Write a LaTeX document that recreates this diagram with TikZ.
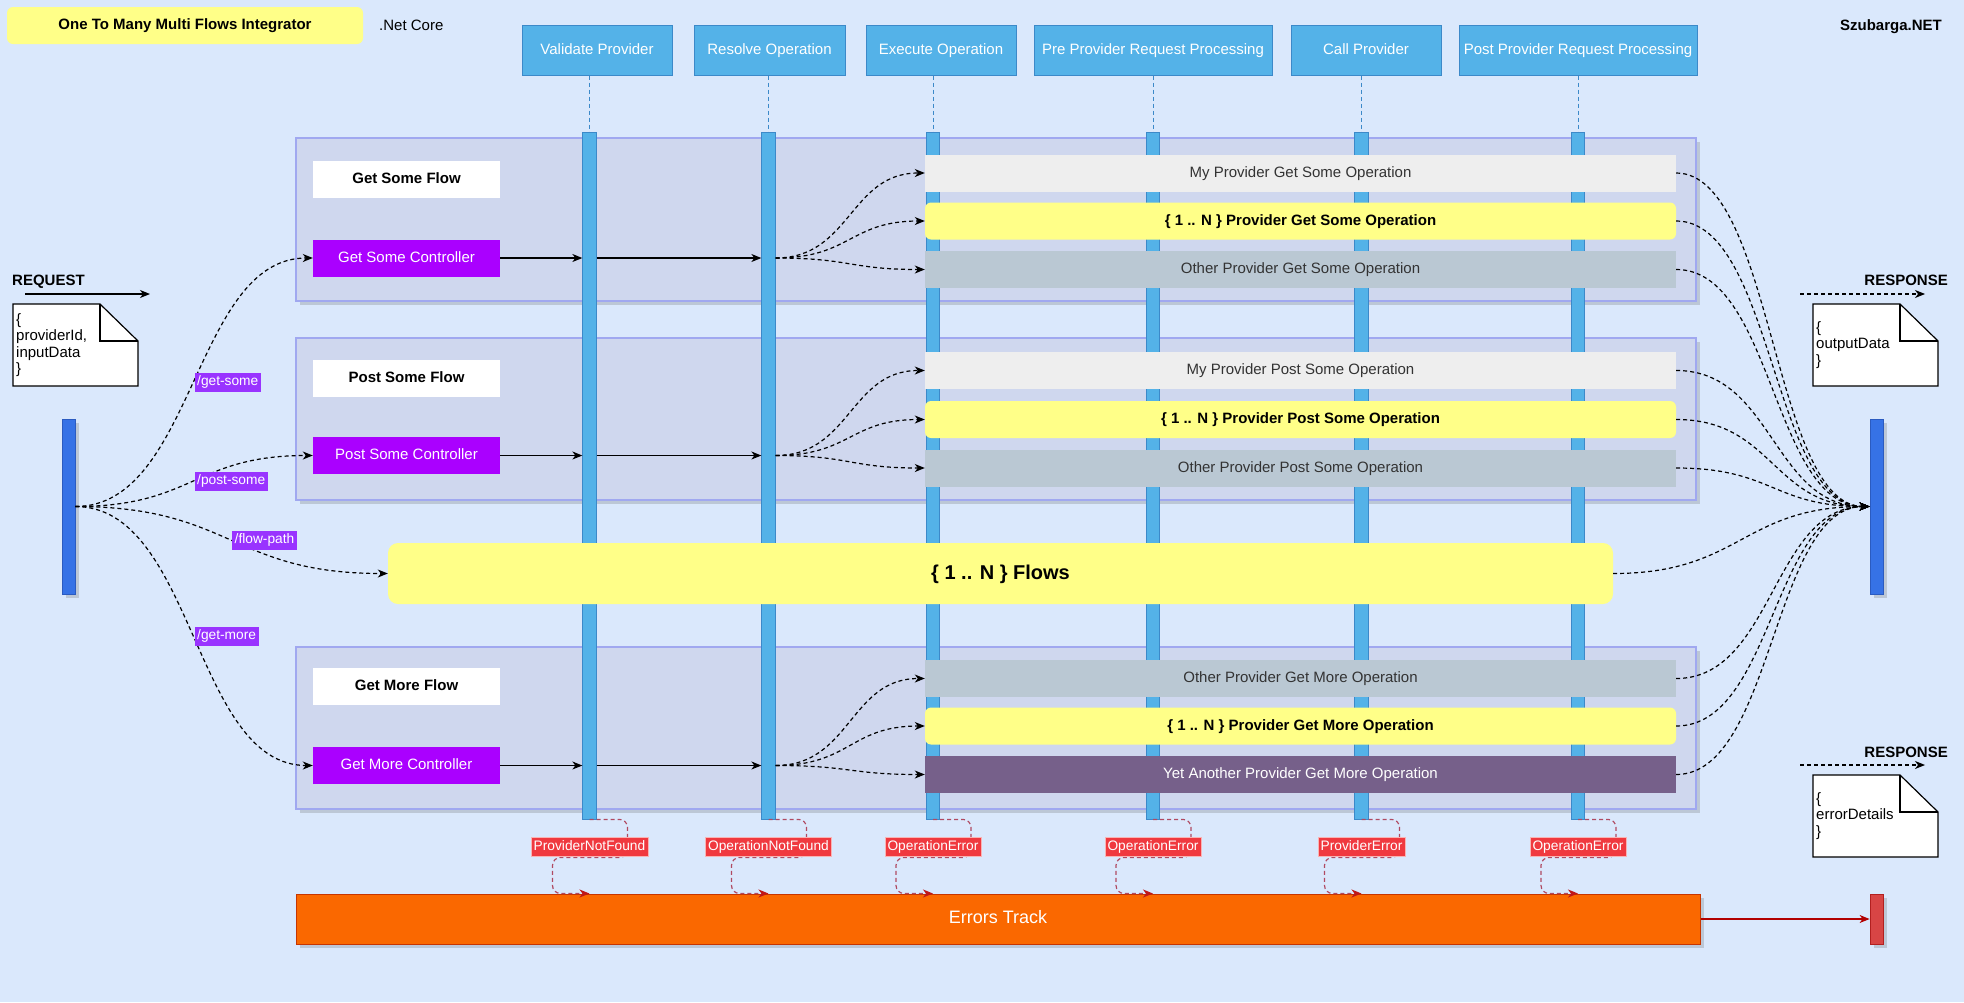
\documentclass[tikz,border=0pt]{standalone}
\usepackage{fontspec}
\setmainfont{Liberation Sans}
\usetikzlibrary{arrows.meta,calc,positioning,shadows}

\definecolor{bgblue}{HTML}{DAE8FC}
\definecolor{headblue}{HTML}{54B2E8}
\definecolor{headline}{HTML}{3C89C9}
\definecolor{groupfill}{HTML}{CFD7EE}
\definecolor{groupline}{HTML}{A0A8F0}
\definecolor{ctrlpurple}{HTML}{AA00FF}
\definecolor{routepurple}{HTML}{9933FF}
\definecolor{rowgray}{HTML}{EEEEEE}
\definecolor{rowyellow}{HTML}{FFFF88}
\definecolor{rowblue}{HTML}{BAC8D3}
\definecolor{rowpurple}{HTML}{76608A}
\definecolor{textgray}{HTML}{333333}
\definecolor{barblue}{HTML}{3672E6}
\definecolor{barline}{HTML}{2B5BC0}
\definecolor{errfill}{HTML}{F0393F}
\definecolor{errborder}{HTML}{F8B4B4}
\definecolor{errline}{HTML}{B04A62}
\definecolor{errtip}{HTML}{C01818}
\definecolor{trackorange}{HTML}{FA6800}
\definecolor{trackline}{HTML}{C73500}
\definecolor{redbar}{HTML}{D84545}
\definecolor{redline}{HTML}{B22020}
\definecolor{trackred}{HTML}{B20000}

\begin{document}
\begin{tikzpicture}[x=1pt,y=-1pt,>={Stealth[length=10pt,width=8pt,inset=3pt]}]
	\tikzstyle{txt} = [font=\fontsize{15}{18}\selectfont, text height=11pt, text depth=3pt]
	\tikzstyle{txtb} = [font=\fontsize{15}{18}\selectfont\bfseries, text height=11pt, text depth=3pt]
	\tikzstyle{shadowed} = [drop shadow={shadow xshift=4pt,shadow yshift=-4pt,opacity=0.25,fill=black!60}]
	\tikzstyle{head} = [txt, rectangle, draw=headline, fill=headblue, text=white, line width=1pt, minimum height=50pt, inner sep=0pt]
	\tikzstyle{life} = [rectangle, draw=headline, fill=headblue, line width=0.8pt, minimum width=13.5pt, minimum height=687pt, inner sep=0pt]
	\tikzstyle{lifeline} = [draw=headline, line width=1pt, dash pattern=on 4pt off 3pt]
	\tikzstyle{group} = [rectangle, draw=groupline, fill=groupfill, line width=1.2pt, minimum width=1400pt, inner sep=0pt, shadowed]
	\tikzstyle{flowname} = [txtb, fill=white, minimum width=187pt, minimum height=37pt, inner sep=0pt]
	\tikzstyle{ctrl} = [txt, fill=ctrlpurple, text=white, minimum width=187pt, minimum height=37pt, inner sep=0pt]
	\tikzstyle{oprow} = [txt, minimum width=751pt, minimum height=37pt, inner sep=0pt]
	\tikzstyle{nrow} = [oprow, txtb, fill=rowyellow, rounded corners=6pt]
	\tikzstyle{route} = [fill=routepurple, text=white, font=\fontsize{13.75}{15}\selectfont, text height=10pt, text depth=3pt, minimum height=19pt, inner xsep=2.5pt, inner ysep=0pt, anchor=west]
	\tikzstyle{fan} = [->, line width=1.2pt, dash pattern=on 4pt off 3pt]
	\tikzstyle{flowarrow} = [->, line width=1.2pt]
	\tikzstyle{sidebar} = [rectangle, draw=barline, fill=barblue, line width=0.8pt, minimum width=13pt, minimum height=175pt, inner sep=0pt, shadowed]
	\tikzstyle{note} = [draw=black, fill=white, line width=1.2pt]
	\tikzstyle{notetext} = [font=\fontsize{15}{16.5}\selectfont, align=left, anchor=west, inner sep=0pt]
	\tikzstyle{errlabel} = [fill=errfill, draw=errborder, text=white, font=\fontsize{13.75}{15}\selectfont, text height=10pt, text depth=3pt, minimum height=19pt, inner xsep=2.5pt, inner ysep=0pt, line width=0.6pt]
	\tikzstyle{errpath} = [draw=errline, line width=1.2pt, dash pattern=on 4pt off 3pt, rounded corners=8pt, -{Stealth[length=10pt,width=8pt,inset=3pt,color=errtip]}]

	\fill[bgblue] (0,0) rectangle (1964,1002);
	\useasboundingbox (0,0) rectangle (1964,1002);

	% title row
	\node[txtb, fill=rowyellow, rounded corners=6pt, minimum width=356pt, minimum height=37pt, inner sep=0pt] (title) at (185,25.5) {One To Many Multi Flows Integrator};
	\node[txt, anchor=west, inner sep=0pt] (netcore) at (379,26) {.Net Core};
	\node[txtb, anchor=east, inner sep=0pt] (brand) at (1942,26) {Szubarga.NET};

	% flow groups
	\node[group, minimum height=163pt] (gsome) at (996,219.5) {};
	\node[group, minimum height=162pt] (psome) at (996,419) {};
	\node[group, minimum height=162pt] (gmore) at (996,728) {};

	% pipeline steps
	\node[head, minimum width=150pt] (validate) at (597,50) {Validate Provider};
	\node[head, minimum width=151pt] (resolve) at (769.5,50) {Resolve Operation};
	\node[head, minimum width=150pt] (execute) at (941,50) {Execute Operation};
	\node[head, minimum width=238pt] (preproc) at (1153,50) {Pre Provider Request Processing};
	\node[head, minimum width=150pt] (callprov) at (1366,50) {Call Provider};
	\node[head, minimum width=238pt] (postproc) at (1578,50) {Post Provider Request Processing};

	\foreach \n/\x in {vbar/589.5, rbar/768.5, ebar/933, pbar/1153, cbar/1361.5, obar/1578}
		\node[life] (\n) at (\x,475.5) {};
	\foreach \n/\h in {vbar/validate, rbar/resolve, ebar/execute, pbar/preproc, cbar/callprov, obar/postproc}
		\draw[lifeline] (\n.north |- \h.south) -- (\n.north);

	% flows and controllers
	\node[flowname] (getflow) at (406.5,179.5) {Get Some Flow};
	\node[ctrl] (getctrl) at (406.5,258) {Get Some Controller};
	\node[flowname] (postflow) at (406.5,378) {Post Some Flow};
	\node[ctrl] (postctrl) at (406.5,455.5) {Post Some Controller};
	\node[flowname] (moreflow) at (406.5,686.5) {Get More Flow};
	\node[ctrl] (morectrl) at (406.5,765.5) {Get More Controller};

	% provider operations
	\node[oprow, fill=rowgray, text=textgray] (myget) at (1300.5,173) {My Provider Get Some Operation};
	\node[nrow] (nget) at (1300.5,221) {\{ 1 .. N \} Provider Get Some Operation};
	\node[oprow, fill=rowblue, text=textgray] (otherget) at (1300.5,269.5) {Other Provider Get Some Operation};
	\node[oprow, fill=rowgray, text=textgray] (mypost) at (1300.5,370.5) {My Provider Post Some Operation};
	\node[nrow] (npost) at (1300.5,419.5) {\{ 1 .. N \} Provider Post Some Operation};
	\node[oprow, fill=rowblue, text=textgray] (otherpost) at (1300.5,468) {Other Provider Post Some Operation};
	\node[oprow, fill=rowblue, text=textgray] (othermore) at (1300.5,678.5) {Other Provider Get More Operation};
	\node[nrow] (nmore) at (1300.5,726) {\{ 1 .. N \} Provider Get More Operation};
	\node[oprow, fill=rowpurple, text=white] (yetmore) at (1300.5,774.5) {Yet Another Provider Get More Operation};

	\node[fill=rowyellow, rounded corners=10pt, font=\fontsize{20}{24}\selectfont\bfseries, text height=15pt, text depth=4pt, minimum width=1225pt, minimum height=61pt, inner sep=0pt] (flows) at (1000.5,573.5) {\{ 1 .. N \} Flows};

	% request / response side
	\node[sidebar] (lbar) at (68.5,506.5) {};
	\node[sidebar] (rightbar) at (1876.5,506.5) {};

	\node[txtb, anchor=west, inner sep=0pt] (reqlabel) at (12,281) {REQUEST};
	\coordinate (reqa) at (25,294);
	\coordinate (reqb) at (150,294);
	\draw[flowarrow] (reqa) -- (reqb);
	\node[txtb, anchor=east, inner sep=0pt] (reslabel) at (1948,281) {RESPONSE};
	\coordinate (resa) at (1800,294);
	\coordinate (resb) at (1925,294);
	\draw[fan] (resa) -- (resb);
	\node[txtb, anchor=east, inner sep=0pt] (errreslabel) at (1948,753) {RESPONSE};
	\coordinate (erra) at (1800,765);
	\coordinate (errb) at (1925,765);
	\draw[fan] (erra) -- (errb);

	\foreach \nx/\ny in {13/304, 1813/304, 1813/775} {
		\draw[note] (\nx,\ny) -- ++(87,0) -- ++(38,37) |- ++(-125,45) -- cycle;
		\draw[note, fill=none] (\nx+87,\ny) -- ++(0,37) -- ++(38,0);
	}
	\node[notetext] (reqnote) at (16,345) {\{\\providerId,\\inputData\\\}};
	\node[notetext] (resnote) at (1816,345) {\{\\outputData\\\}};
	\node[notetext] (errnote) at (1816,816) {\{\\errorDetails\\\}};

	% routing
	\draw[fan] (lbar.east) .. controls +(119,0) and +(-119,0) .. (getctrl.west) node[route, pos=0.5] {/get-some};
	\draw[fan] (lbar.east) .. controls +(119,0) and +(-119,0) .. (postctrl.west) node[route, pos=0.5] {/post-some};
	\draw[fan] (lbar.east) .. controls +(157,0) and +(-157,0) .. (flows.west) node[route, pos=0.5] {/flow-path};
	\draw[fan] (lbar.east) .. controls +(119,0) and +(-119,0) .. (morectrl.west) node[route, pos=0.5] {/get-more};

	\foreach \c in {getctrl, postctrl, morectrl} {
		\draw[flowarrow] (\c.east) -- (vbar.west |- \c.east);
		\draw[flowarrow] (vbar.east |- \c.east) -- (rbar.west |- \c.east);
	}
	\foreach \c/\r in {getctrl/myget, getctrl/nget, getctrl/otherget, postctrl/mypost, postctrl/npost, postctrl/otherpost, morectrl/othermore, morectrl/nmore, morectrl/yetmore}
		\draw[fan] (rbar.east |- \c.east) .. controls +(75,0) and +(-75,0) .. (\r.west);

	\foreach \r in {myget, nget, otherget, mypost, npost, otherpost, othermore, nmore, yetmore}
		\draw[fan] (\r.east) .. controls +(97,0) and +(-97,0) .. (rightbar.west);
	\draw[fan] (flows.east) .. controls +(128,0) and +(-128,0) .. (rightbar.west);

	% errors
	\node[font=\fontsize{18}{21}\selectfont, text height=13pt, text depth=4pt, fill=trackorange, draw=trackline, text=white, line width=1pt, minimum width=1404pt, minimum height=50pt, inner sep=0pt, shadowed] (track) at (998,919) {Errors Track};
	\node[rectangle, fill=redbar, draw=redline, line width=0.8pt, minimum width=13pt, minimum height=50pt, inner sep=0pt, shadowed] (redend) at (1876.5,919) {};
	\draw[->, draw=trackred, line width=1.2pt] (track.east) -- (redend.west);

	\foreach \b/\t in {vbar/ProviderNotFound, rbar/OperationNotFound, ebar/OperationError, pbar/OperationError, cbar/ProviderError, obar/OperationError} {
		\draw[errpath] (\b.south) -- ++(38,0) -- ++(0,38) -- ++(-75,0) |- (\b.south |- track.north);
		\node[errlabel, below=18pt of \b] (err\b) {\t};
	}
\end{tikzpicture}
\end{document}
